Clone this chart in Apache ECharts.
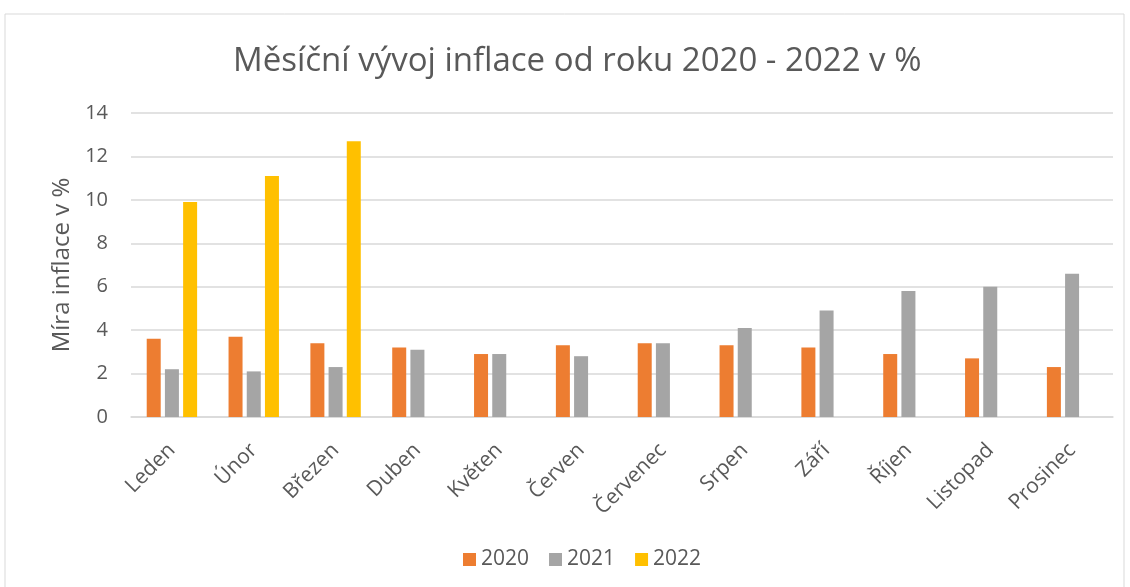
<!DOCTYPE html>
<html>
<head>
<meta charset="utf-8">
<script src="https://cdn.jsdelivr.net/npm/echarts@6/dist/echarts.min.js"></script>
<style>
  html, body { margin: 0; padding: 0; background: #fff; }
  #chart { width: 1130px; height: 587px; }
</style>
</head>
<body>
<div id="chart"></div>
<script>
var months = ['Leden', 'Únor', 'Březen', 'Duben', 'Květen', 'Červen', 'Červenec', 'Srpen', 'Září', 'Říjen', 'Listopad', 'Prosinec'];
var years = ['2020', '2021', '2022'];
var infl2020 = [3.6, 3.7, 3.4, 3.2, 2.9, 3.3, 3.4, 3.3, 3.2, 2.9, 2.7, 2.3];
var infl2021 = [2.2, 2.1, 2.3, 3.1, 2.9, 2.8, 3.4, 4.1, 4.9, 5.8, 6.0, 6.6];
var infl2022 = [9.9, 11.1, 12.7, null, null, null, null, null, null, null, null, null];
var yTicks = [0, 2, 4, 6, 8, 10, 12, 14];

var colors = ['#ED7D31', '#A5A5A5', '#FFC000'];
var font = 'Open Sans';

var chart = echarts.init(document.getElementById('chart'));

function barSeries(name, data, color) {
    return {
        name: name,
        type: 'bar',
        data: data,
        barWidth: 14,
        barGap: '30%',
        itemStyle: { color: color },
        emphasis: { disabled: true }
    };
}

var option = {
    animation: false,
    textStyle: { fontFamily: font },
    title: {
        text: 'Měsíční vývoj inflace od roku 2020 - 2022 v %',
        left: 228,
        top: 40,
        textStyle: { fontFamily: font, fontSize: 33, fontWeight: 'normal', color: '#595959' }
    },
    legend: {
        data: years,
        top: 544,
        left: 458,
        icon: 'rect',
        itemWidth: 13,
        itemHeight: 13,
        itemGap: 20,
        textStyle: { fontFamily: font, fontSize: 21, color: '#595959' }
    },
    grid: { left: 131, right: 17, top: 113, bottom: 170 },
    xAxis: {
        type: 'category',
        data: months,
        axisLine: { show: true, lineStyle: { color: '#D9D9D9', width: 1.5 } },
        axisTick: { show: false },
        axisLabel: { rotate: 45, margin: 30, fontSize: 21, color: '#595959', fontFamily: font, interval: 0 }
    },
    yAxis: {
        type: 'value',
        min: yTicks[0],
        max: yTicks[yTicks.length - 1],
        interval: 2,
        name: 'Míra inflace v %',
        nameLocation: 'middle',
        nameGap: 57,
        nameTextStyle: { fontFamily: font, fontSize: 24, color: '#595959' },
        axisLine: { show: false },
        axisTick: { show: false },
        axisLabel: { fontSize: 20, color: '#595959', fontFamily: font, margin: 23 },
        splitLine: { lineStyle: { color: '#D9D9D9', width: 1.5 } }
    },
    graphic: [{
        type: 'rect',
        shape: { x: 5, y: 14, width: 1119, height: 590 },
        style: { fill: 'none', stroke: '#D9D9D9', lineWidth: 1 },
        silent: true
    }],
    series: [
        barSeries(years[0], infl2020, colors[0]),
        barSeries(years[1], infl2021, colors[1]),
        barSeries(years[2], infl2022, colors[2])
    ]
};
chart.setOption(option);
</script>
</body>
</html>
